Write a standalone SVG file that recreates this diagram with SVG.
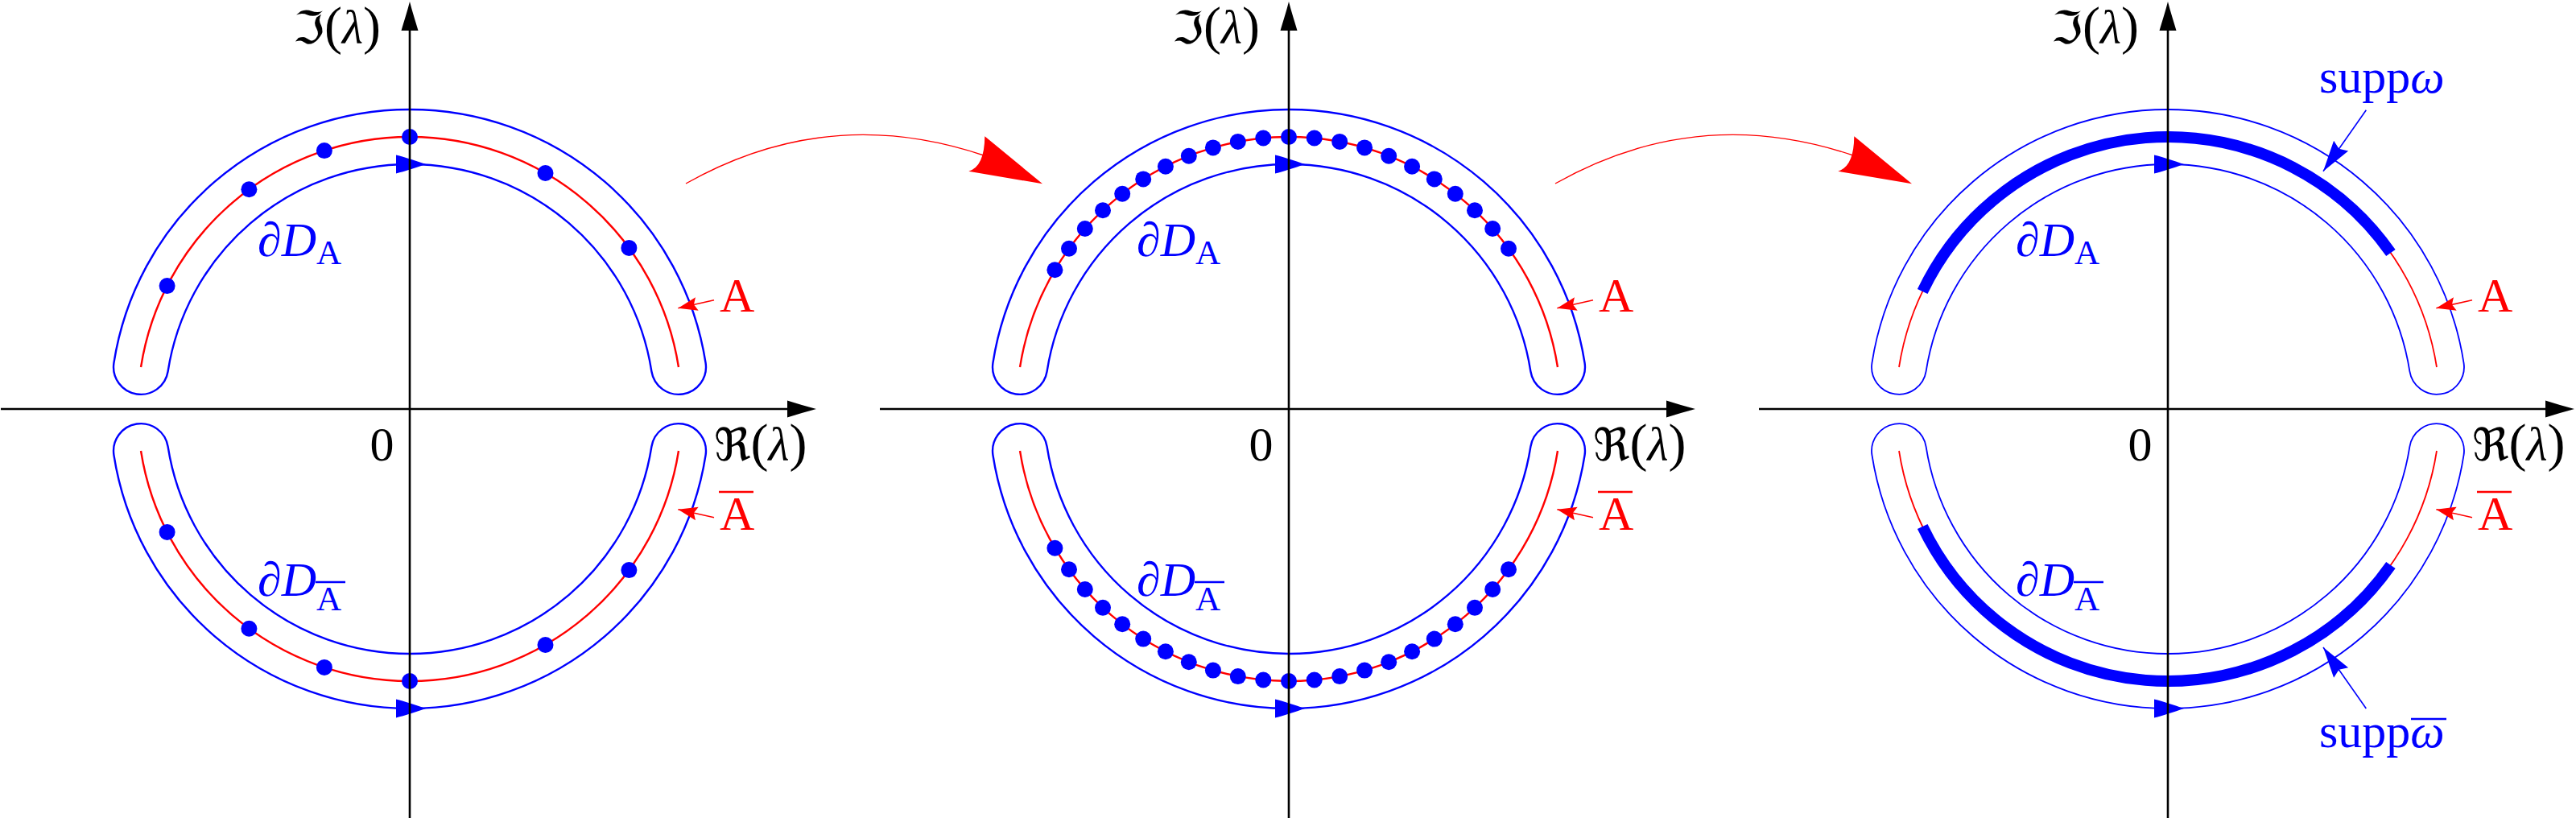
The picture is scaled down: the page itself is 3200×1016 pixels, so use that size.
<svg xmlns="http://www.w3.org/2000/svg" xmlns:xlink="http://www.w3.org/1999/xlink" width="3200" height="1016" viewBox="0 0 3200 1016">
<style>
  .ax { stroke:#000; stroke-width:2.6; fill:none; }
  .axh { fill:#000; stroke:none; }
  .tube { stroke:#0000ff; stroke-width:2.4; fill:none; }
  .tube3 { stroke:#0000ff; stroke-width:1.8; fill:none; }
  .red { stroke:#ff0000; stroke-width:2.4; fill:none; }
  .red3 { stroke:#ff0000; stroke-width:1.8; fill:none; }
  .bh { fill:#0000ff; stroke:none; }
  .dot { fill:#0000ff; stroke:none; }
  .thick { stroke:#0000ff; stroke-width:14; fill:none; stroke-linecap:butt; }
  .t { font-family:"Liberation Serif", "Times New Roman", serif; font-size:60px; }
  .frak { font-family:"DejaVu Serif", "DejaVu Sans", serif; font-size:56px; }
  .par { font-size:66px; }
  .it { font-style:italic; }
  .sub { font-size:43px; }
  .rt { fill:#ff0000; }
  .bt { fill:#0000ff; }
  .rptr { stroke:#ff0000; stroke-width:1.6; fill:none; }
  .bptr { stroke:#0000ff; stroke-width:1.6; fill:none; }
  .big { stroke:#ff0000; stroke-width:1.4; fill:none; }
  .bigh { fill:#ff0000; stroke:none; }
</style>
<defs>
  <path id="tubeU" d="M367.57,-57.23 A372,372 0 0 0 -367.57,-57.23 A34,34 0 0 0 -300.38,-46.77 A304,304 0 0 1 300.38,-46.77 A34,34 0 0 0 367.57,-57.23 Z"/>
  <path id="tubeL" d="M367.57,57.23 A372,372 0 0 1 -367.57,57.23 A34,34 0 0 1 -300.38,46.77 A304,304 0 0 0 300.38,46.77 A34,34 0 0 1 367.57,57.23 Z"/>
  <path id="redU" d="M333.97,-52 A338,338 0 0 0 -333.97,-52"/>
  <path id="redL" d="M333.97,52 A338,338 0 0 1 -333.97,52"/>
  <path id="ahB" d="M20,0 C8,-4 -6,-9 -17,-11.5 L-17,11.5 C-6,9 8,4 20,0 Z"/>
  <g id="axes">
    <line class="ax" x1="-508" y1="0" x2="474" y2="0"/>
    <line class="ax" x1="0" y1="508" x2="0" y2="-472"/>
    <path class="axh" d="M505,0 C493,-3 481,-7 469,-10.5 L469,10.5 C481,7 493,3 505,0 Z"/>
    <path class="axh" d="M0,-506 C-3,-494 -7,-482 -10.5,-470 L10.5,-470 C7,-482 3,-494 0,-506 Z"/>
  </g>
  <marker id="mR" markerUnits="userSpaceOnUse" orient="auto" refX="0" refY="0" markerWidth="30" markerHeight="20" overflow="visible">
    <path d="M0,0 L-24,-8.5 L-20,0 L-24,8.5 Z" fill="#ff0000"/>
  </marker>
  <marker id="mB" markerUnits="userSpaceOnUse" orient="auto" refX="0" refY="0" markerWidth="40" markerHeight="24" overflow="visible">
    <path d="M0,0 L-38.5,-11 L-34,0 L-38.5,11 Z" fill="#0000ff"/>
  </marker>
</defs>

<g id="panel1" transform="translate(509,508)">
  <use xlink:href="#tubeU" class="tube"/>
  <use xlink:href="#tubeL" class="tube"/>
  <use xlink:href="#redU" class="red"/>
  <use xlink:href="#redL" class="red"/>
  <use xlink:href="#ahB" class="bh" transform="translate(0,-304)"/>
  <use xlink:href="#ahB" class="bh" transform="translate(0,372)"/>
  <g id="dots1">
    <circle class="dot" cx="-301.4" cy="-152.9" r="10"/>
    <circle class="dot" cx="-199.6" cy="-272.8" r="10"/>
    <circle class="dot" cx="-106.1" cy="-320.9" r="10"/>
    <circle class="dot" cx="0" cy="-338" r="10"/>
    <circle class="dot" cx="168.5" cy="-293" r="10"/>
    <circle class="dot" cx="272.4" cy="-200.1" r="10"/>
    <circle class="dot" cx="-301.4" cy="152.9" r="10"/>
    <circle class="dot" cx="-199.6" cy="272.8" r="10"/>
    <circle class="dot" cx="-106.1" cy="320.9" r="10"/>
    <circle class="dot" cx="0" cy="338" r="10"/>
    <circle class="dot" cx="168.5" cy="293" r="10"/>
    <circle class="dot" cx="272.4" cy="200.1" r="10"/>
  </g>
  <use xlink:href="#axes"/>
  <text class="t" x="-145" y="-454"><tspan class="frak">ℑ</tspan><tspan class="par">(</tspan><tspan class="it">λ</tspan><tspan class="par">)</tspan></text>
  <text class="t" x="378" y="64"><tspan class="frak">ℜ</tspan><tspan class="par">(</tspan><tspan class="it">λ</tspan><tspan class="par">)</tspan></text>
  <text class="t" x="-34.5" y="64" text-anchor="middle" font-size="56">0</text>
  <text class="t rt" x="385" y="-121">A</text>
  <text class="t rt" x="385" y="150">A</text>
  <line x1="384" y1="103" x2="427" y2="103" stroke="#ff0000" stroke-width="2.6"/>
  <line class="rptr" x1="378" y1="-135.3" x2="333.4" y2="-125.3" marker-end="url(#mR)"/>
  <line class="rptr" x1="378" y1="134.7" x2="333.4" y2="124.7" marker-end="url(#mR)"/>
  <text class="t bt" x="-189" y="-190">∂<tspan class="it">D</tspan><tspan class="sub" dy="10">A</tspan></text>
  <text class="t bt" x="-189" y="232">∂<tspan class="it">D</tspan><tspan class="sub" dy="18">A</tspan></text>
  <line x1="-117" y1="215" x2="-80" y2="215" stroke="#0000ff" stroke-width="2.4"/>
</g>

<g id="panel2" transform="translate(1601,508)">
  <use xlink:href="#tubeU" class="tube"/>
  <use xlink:href="#tubeL" class="tube"/>
  <use xlink:href="#redU" class="red"/>
  <use xlink:href="#redL" class="red"/>
  <use xlink:href="#ahB" class="bh" transform="translate(0,-304)"/>
  <use xlink:href="#ahB" class="bh" transform="translate(0,372)"/>
  <g id="dots2">
    <circle class="dot" cx="273" cy="-199.3" r="10"/>
    <circle class="dot" cx="253.2" cy="-224" r="10"/>
    <circle class="dot" cx="231" cy="-246.8" r="10"/>
    <circle class="dot" cx="206.8" cy="-267.3" r="10"/>
    <circle class="dot" cx="180.8" cy="-285.6" r="10"/>
    <circle class="dot" cx="153.1" cy="-301.3" r="10"/>
    <circle class="dot" cx="124.2" cy="-314.3" r="10"/>
    <circle class="dot" cx="94.1" cy="-324.6" r="10"/>
    <circle class="dot" cx="63.2" cy="-332.1" r="10"/>
    <circle class="dot" cx="31.7" cy="-336.5" r="10"/>
    <circle class="dot" cx="0" cy="-338" r="10"/>
    <circle class="dot" cx="-31.7" cy="-336.5" r="10"/>
    <circle class="dot" cx="-63.2" cy="-332.1" r="10"/>
    <circle class="dot" cx="-94.1" cy="-324.6" r="10"/>
    <circle class="dot" cx="-124.2" cy="-314.3" r="10"/>
    <circle class="dot" cx="-153.1" cy="-301.3" r="10"/>
    <circle class="dot" cx="-180.8" cy="-285.6" r="10"/>
    <circle class="dot" cx="-206.8" cy="-267.3" r="10"/>
    <circle class="dot" cx="-231" cy="-246.8" r="10"/>
    <circle class="dot" cx="-253.2" cy="-224" r="10"/>
    <circle class="dot" cx="-273" cy="-199.3" r="10"/>
    <circle class="dot" cx="-290.6" cy="-172.7" r="10"/>
    <circle class="dot" cx="273" cy="199.3" r="10"/>
    <circle class="dot" cx="253.2" cy="224" r="10"/>
    <circle class="dot" cx="231" cy="246.8" r="10"/>
    <circle class="dot" cx="206.8" cy="267.3" r="10"/>
    <circle class="dot" cx="180.8" cy="285.6" r="10"/>
    <circle class="dot" cx="153.1" cy="301.3" r="10"/>
    <circle class="dot" cx="124.2" cy="314.3" r="10"/>
    <circle class="dot" cx="94.1" cy="324.6" r="10"/>
    <circle class="dot" cx="63.2" cy="332.1" r="10"/>
    <circle class="dot" cx="31.7" cy="336.5" r="10"/>
    <circle class="dot" cx="0" cy="338" r="10"/>
    <circle class="dot" cx="-31.7" cy="336.5" r="10"/>
    <circle class="dot" cx="-63.2" cy="332.1" r="10"/>
    <circle class="dot" cx="-94.1" cy="324.6" r="10"/>
    <circle class="dot" cx="-124.2" cy="314.3" r="10"/>
    <circle class="dot" cx="-153.1" cy="301.3" r="10"/>
    <circle class="dot" cx="-180.8" cy="285.6" r="10"/>
    <circle class="dot" cx="-206.8" cy="267.3" r="10"/>
    <circle class="dot" cx="-231" cy="246.8" r="10"/>
    <circle class="dot" cx="-253.2" cy="224" r="10"/>
    <circle class="dot" cx="-273" cy="199.3" r="10"/>
    <circle class="dot" cx="-290.6" cy="172.7" r="10"/>
  </g>
  <use xlink:href="#axes"/>
  <text class="t" x="-145" y="-454"><tspan class="frak">ℑ</tspan><tspan class="par">(</tspan><tspan class="it">λ</tspan><tspan class="par">)</tspan></text>
  <text class="t" x="378" y="64"><tspan class="frak">ℜ</tspan><tspan class="par">(</tspan><tspan class="it">λ</tspan><tspan class="par">)</tspan></text>
  <text class="t" x="-34.5" y="64" text-anchor="middle" font-size="56">0</text>
  <text class="t rt" x="385" y="-121">A</text>
  <text class="t rt" x="385" y="150">A</text>
  <line x1="384" y1="103" x2="427" y2="103" stroke="#ff0000" stroke-width="2.6"/>
  <line class="rptr" x1="378" y1="-135.3" x2="333.4" y2="-125.3" marker-end="url(#mR)"/>
  <line class="rptr" x1="378" y1="134.7" x2="333.4" y2="124.7" marker-end="url(#mR)"/>
  <text class="t bt" x="-189" y="-190">∂<tspan class="it">D</tspan><tspan class="sub" dy="10">A</tspan></text>
  <text class="t bt" x="-189" y="232">∂<tspan class="it">D</tspan><tspan class="sub" dy="18">A</tspan></text>
  <line x1="-117" y1="215" x2="-80" y2="215" stroke="#0000ff" stroke-width="2.4"/>
</g>

<g id="panel3" transform="translate(2693,508)">
  <use xlink:href="#tubeU" class="tube3"/>
  <use xlink:href="#tubeL" class="tube3"/>
  <use xlink:href="#redU" class="red3"/>
  <use xlink:href="#redL" class="red3"/>
  <path class="thick" d="M-304.8,-146 A338,338 0 0 1 276.9,-193.9"/>
  <path class="thick" d="M-304.8,146 A338,338 0 0 0 276.9,193.9"/>
  <use xlink:href="#ahB" class="bh" transform="translate(0,-304)"/>
  <use xlink:href="#ahB" class="bh" transform="translate(0,372)"/>
  <use xlink:href="#axes"/>
  <text class="t" x="-145" y="-454"><tspan class="frak">ℑ</tspan><tspan class="par">(</tspan><tspan class="it">λ</tspan><tspan class="par">)</tspan></text>
  <text class="t" x="378" y="64"><tspan class="frak">ℜ</tspan><tspan class="par">(</tspan><tspan class="it">λ</tspan><tspan class="par">)</tspan></text>
  <text class="t" x="-34.5" y="64" text-anchor="middle" font-size="56">0</text>
  <text class="t rt" x="385" y="-121">A</text>
  <text class="t rt" x="385" y="150">A</text>
  <line x1="384" y1="103" x2="427" y2="103" stroke="#ff0000" stroke-width="2.6"/>
  <line class="rptr" x1="378" y1="-135.3" x2="333.4" y2="-125.3" marker-end="url(#mR)"/>
  <line class="rptr" x1="378" y1="134.7" x2="333.4" y2="124.7" marker-end="url(#mR)"/>
  <text class="t bt" x="-189" y="-190">∂<tspan class="it">D</tspan><tspan class="sub" dy="10">A</tspan></text>
  <text class="t bt" x="-189" y="232">∂<tspan class="it">D</tspan><tspan class="sub" dy="18">A</tspan></text>
  <line x1="-117" y1="215" x2="-80" y2="215" stroke="#0000ff" stroke-width="2.4"/>
  <text class="t bt" x="188" y="-393">supp<tspan class="it">ω</tspan></text>
  <text class="t bt" x="188" y="420">supp<tspan class="it">ω</tspan></text>
  <line x1="302" y1="385" x2="346" y2="385" stroke="#0000ff" stroke-width="2.4"/>
  <line class="bptr" x1="246.3" y1="-371.3" x2="193" y2="-295.3" marker-end="url(#mB)"/>
  <line class="bptr" x1="246.3" y1="372" x2="193" y2="296" marker-end="url(#mB)"/>
</g>

<g id="connectors">
  <path class="big" d="M852,228 Q1029,128 1222,193"/>
  <path class="bigh" d="M1223.3,169.3 L1295,228.3 L1203.3,212.7 Q1223,207 1223.3,169.3 Z"/>
  <path class="big" d="M1932,228 Q2109,128 2302,193"/>
  <path class="bigh" d="M2303.3,169.3 L2375,228.3 L2283.3,212.7 Q2303,207 2303.3,169.3 Z"/>
</g>
</svg>
